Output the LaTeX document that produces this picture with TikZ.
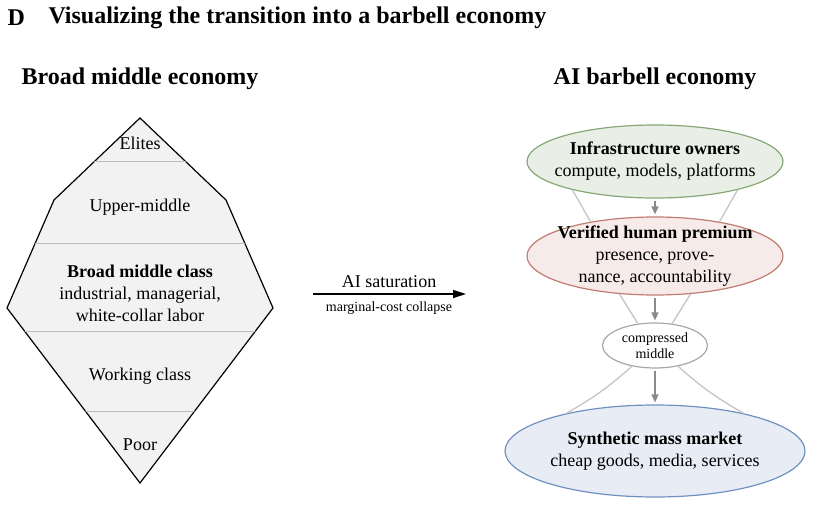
\documentclass[tikz,border=0pt]{standalone}
\usepackage{fontspec}
\setmainfont{Liberation Serif}
\usetikzlibrary{arrows.meta,shapes.geometric}

\definecolor{layerfill}{HTML}{F2F2F2}
\definecolor{layerline}{HTML}{BDBDBD}
\definecolor{ownfill}{HTML}{E9EFE6}
\definecolor{owndraw}{HTML}{86A877}
\definecolor{humfill}{HTML}{F6EBE9}
\definecolor{humdraw}{HTML}{C27A72}
\definecolor{massfill}{HTML}{E8EDF5}
\definecolor{massdraw}{HTML}{7090C2}
\definecolor{midline}{HTML}{A8A8A8}
\definecolor{funnelgray}{HTML}{C4C4C4}
\definecolor{flowgray}{HTML}{8A8A8A}

\newcommand{\bodysize}{\fontsize{18}{22}\selectfont}
\newcommand{\smallsize}{\fontsize{14}{16.5}\selectfont}
\newcommand{\headsize}{\fontsize{24}{28}\selectfont\bfseries}

\tikzset{
    layer/.style={font=\bodysize, align=center},
    class/.style={ellipse, draw, line width=1.2pt, inner sep=0pt},
    classtext/.style={font=\bodysize, align=center},
    funnel/.style={funnelgray, line width=1.3pt},
    flow/.style={flowgray, line width=1.4pt, -{Triangle[length=8pt,width=7pt]}, shorten <=2pt, shorten >=2pt}
}

\begin{document}
\begin{tikzpicture}[x=1pt,y=-1pt]
    \useasboundingbox (0,0) rectangle (813,505);

    % headings
    \node[anchor=west, font=\headsize] (panel) at (4,18) {D};
    \node[anchor=west, font=\headsize] (title) at (45,18) {Visualizing the transition into a barbell economy};
    \node[font=\headsize] (lefthead) at (140,79) {Broad middle economy};
    \node[font=\headsize] (righthead) at (655,79) {AI barbell economy};

    % broad middle economy
    \draw[black, line width=1.2pt, fill=layerfill] (140,118) -- (226,200) -- (273,308) -- (140,483) -- (7,308) -- (54,200) -- cycle;
    \begin{scope}
        \clip (140,118) -- (226,200) -- (273,308) -- (140,483) -- (7,308) -- (54,200) -- cycle;
        \foreach \y in {162,243,331,411}
            \draw[layerline, line width=1pt] (0,\y) -- (280,\y);
    \end{scope}

    \node[layer] (elites) at (140,143) {Elites};
    \node[layer] (upper) at (140,207) {Upper-middle};
    \node[layer] (middle) at (140,293) {\textbf{Broad middle class}\\industrial, managerial,\\white-collar labor};
    \node[layer] (working) at (140,376) {Working class};
    \node[layer] (poor) at (140,445) {Poor};

    % transition
    \coordinate (from) at (313,294);
    \coordinate (to) at (466,294);
    \draw[black, line width=1.3pt, -{Triangle[length=13pt,width=8pt]}] (from) -- (to);
    \node[font=\bodysize] (sat) at (389,282) {AI saturation};
    \node[font=\smallsize] (collapse) at (389,308) {marginal-cost collapse};

    % barbell economy
    \node[class, draw=owndraw, fill=ownfill, minimum width=256pt, minimum height=73pt] (owners) at (655,161.5) {};
    \node[class, draw=humdraw, fill=humfill, minimum width=256pt, minimum height=78pt] (premium) at (655,256) {};
    \node[class, draw=midline, fill=white, minimum width=105pt, minimum height=45pt] (mid) at (655,345.5) {};
    \node[class, draw=massdraw, fill=massfill, minimum width=300pt, minimum height=92pt] (mass) at (655,451) {};

    \node[classtext] at (owners) {\textbf{Infrastructure owners}\\compute, models, platforms};
    \node[classtext] at (premium) {\textbf{Verified human premium}\\presence, prove-\\nance, accountability};
    \node[font=\smallsize, align=center] at (mid) {compressed\\middle};
    \node[classtext] at (mass) {\textbf{Synthetic mass market}\\cheap goods, media, services};

    \draw[funnel] (owners.199) -- (premium.152);
    \draw[funnel] (owners.341) -- (premium.28);
    \draw[funnel] (premium.227) -- (mid.128);
    \draw[funnel] (premium.313) -- (mid.52);
    \draw[funnel] (mid.222) to[bend left=6] (mass.157);
    \draw[funnel] (mid.318) to[bend right=6] (mass.23);

    \draw[flow] (owners.south) -- (premium.north);
    \draw[flow] (premium.south) -- (mid.north);
    \draw[flow] (mid.south) -- (mass.north);
\end{tikzpicture}
\end{document}
